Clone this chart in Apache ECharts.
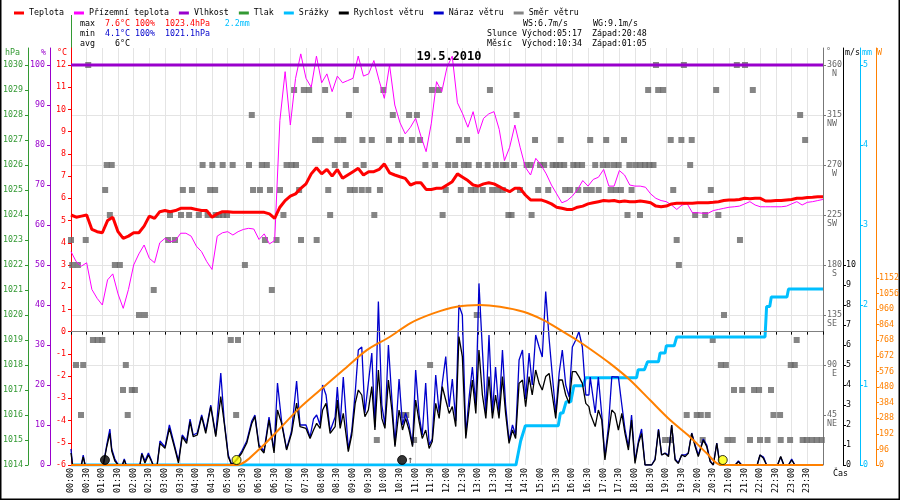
<!DOCTYPE html>
<html>
<head>
<meta charset="utf-8">
<script src="https://cdn.jsdelivr.net/npm/echarts@6/dist/echarts.min.js"></script>
<style>
html, body { margin: 0; padding: 0; background: #fff; }
#chart { width: 900px; height: 500px; }
</style>
</head>
<body>
<div id="chart"></div>
<script>
// 10 minute samples, 00:00 .. 24:00
const tempC = [5.25,5.15,5.2,5.25,4.6,4.5,4.45,5.0,5.15,4.5,
  4.2,4.3,4.45,4.45,4.75,5.2,5.1,5.4,5.45,5.4,
  5.45,5.55,5.55,5.55,5.5,5.45,5.45,5.15,5.3,5.4,
  5.4,5.37,5.37,5.37,5.37,5.37,5.37,5.37,5.3,5.1,
  5.6,5.9,6.1,6.2,6.45,6.65,7.1,7.38,7.1,7.3,
  7.0,7.3,6.9,7.05,7.2,7.35,7.05,7.2,7.2,7.3,
  7.55,7.15,7.05,6.97,6.9,6.6,6.7,6.7,6.4,6.4,
  6.45,6.45,6.6,6.75,7.1,6.95,6.8,6.6,6.55,6.65,
  6.7,6.65,6.53,6.4,6.3,6.45,6.45,6.15,5.93,5.93,
  5.93,5.85,5.75,5.6,5.55,5.5,5.5,5.6,5.65,5.75,
  5.8,5.85,5.9,5.88,5.9,5.85,5.88,5.85,5.85,5.88,
  5.85,5.8,5.65,5.62,5.65,5.75,5.78,5.78,5.78,5.78,
  5.8,5.8,5.8,5.82,5.85,5.9,5.93,5.93,5.95,6.0,
  5.98,6.0,6.0,5.88,5.88,5.9,5.9,5.93,5.95,6.0,
  6.0,6.04,6.05,6.07,6.07];

const feelsC = [3.6,3.15,2.95,3.1,1.9,1.5,1.2,2.33,2.6,1.7,
  1.05,1.9,3.0,3.5,3.9,3.3,3.1,4.0,4.2,4.05,
  4.1,4.43,4.43,4.3,3.85,3.6,3.15,2.8,4.3,4.45,
  4.5,4.35,4.5,4.6,4.65,4.62,4.15,4.4,3.95,4.1,
  9.5,11.7,9.3,11.4,12.5,11.4,11.0,12.4,11.2,11.6,
  10.8,11.5,11.2,11.3,11.4,12.4,11.5,11.6,12.2,11.3,
  10.5,12.0,10.2,9.4,8.9,9.2,9.6,8.8,8.1,9.38,
  11.25,10.8,11.9,12.4,10.3,9.8,9.2,9.9,8.9,9.6,
  9.8,9.9,9.1,7.7,8.3,9.3,8.3,7.4,7.05,7.8,
  7.5,7.1,6.6,6.2,5.8,5.9,6.1,6.4,6.8,6.55,
  6.85,6.95,7.3,6.55,6.55,7.25,7.05,6.6,6.55,6.55,
  6.5,6.2,6.0,5.9,5.85,5.7,5.5,5.7,5.75,5.35,
  5.35,5.33,5.33,5.45,5.5,5.55,5.6,5.62,5.65,5.75,
  5.85,5.7,5.62,5.62,5.62,5.62,5.62,5.65,5.75,5.85,
  5.7,5.82,5.85,5.9,5.95];

const humidityHours = [0, 24];
const humidityPct = [100, 100];

const windHours = [0,0.05,0.33,0.39,0.45,1.03,1.14,1.24,1.3,1.4,1.51,1.64,1.7,1.76,2.2,2.26,2.36,2.47,2.55,2.62,
  2.75,2.84,3.0,3.14,3.3,3.43,3.55,3.69,3.8,3.9,4.03,4.17,4.3,4.46,4.62,4.78,4.89,5.02,5.13,5.29,
  5.45,5.61,5.77,5.87,6.0,6.16,6.32,6.48,6.59,6.72,6.88,7.04,7.2,
  7.31,7.5,7.63,7.74,7.84,7.95,8.03,8.14,8.27,8.43,8.5,8.59,8.69,8.85,8.96,9.07,9.17,9.28,9.38,9.49,
  9.6,9.7,9.81,9.92,10.02,10.13,10.24,10.34,10.47,10.58,10.68,10.79,10.9,11.0,11.11,11.21,11.32,11.43,11.53,11.64,
  11.75,11.85,11.96,12.07,12.17,12.28,12.38,12.49,12.6,12.7,12.81,12.92,13.02,13.13,13.24,13.34,13.45,13.55,13.66,13.77,
  13.87,13.98,14.09,14.19,14.3,14.41,14.51,14.62,14.72,14.83,14.94,15.04,15.15,15.26,15.36,15.47,15.58,15.68,15.79,15.9,
  16.0,16.11,16.21,16.32,16.43,16.53,
  16.57,16.73,16.83,16.94,17.04,17.15,17.26,17.36,17.47,17.58,17.68,17.79,17.89,18.0,18.11,18.21,18.32,18.43,18.53,18.64,
  18.75,18.85,18.96,19.07,19.17,19.28,19.38,19.49,19.6,19.7,19.81,19.92,20.02,20.18,20.29,20.4,20.5,20.61,20.71,
  21.2,21.3,21.4,21.9,21.99,22.1,22.2,22.55,22.65,22.75,22.9,23.0,23.1,24];

const windSpeed = [0.6,0,0,0.4,0,0,0.9,1.58,0.7,0.2,0,0,0.25,0,0,0.55,0.1,0.5,0.25,0,
  0,1.08,0.83,1.83,0.9,0.1,1.42,1.08,2.17,1.42,1.5,2.42,1.58,2.92,1.42,3.42,2.1,0.4,0,0.25,
  0.6,1.1,2.08,2.42,0.9,0.6,2.25,0.6,2.75,2.08,0.75,1.58,3.1,
  1.92,1.83,1.33,1.75,2.08,1.83,2.75,3.08,1.58,1.92,3.25,1.83,2.58,0.67,1.5,3.08,3.75,3.5,2.42,2.75,
  3.92,1.75,4.75,2.33,1.83,4.25,2.75,0.92,2.75,1.75,2.33,1.75,0.92,3.25,2.17,1.33,1.75,0.83,1.17,3.08,
  2.33,3.92,3.25,2.58,2.92,1.92,6.42,5.42,1.33,2.75,4.25,2.58,5.75,3.5,2.33,4.42,2.33,3.5,2.33,4.42,
  2.58,1.08,1.75,1.33,4.08,4.25,2.92,4.42,3.5,4.75,4.08,3.75,4.42,4.58,3.5,2.33,4.25,4.25,3.5,3.08,
  4.67,4.67,4.42,4.08,3.08,2.92,
  2.58,1.92,2.75,2.25,0.25,1.58,2.75,2.58,1.75,2.58,1.58,0.75,2.25,0.08,1.08,1.58,0,0,0,0.25,
  1.75,0.5,0.58,0.42,2.0,0.25,0.08,0.5,0.42,0.58,1.58,0.92,0.42,1.25,0.92,0.17,0,1.08,0,
  0,0.17,0,0,0.5,0.33,0,0,0.42,0,0,0.25,0,0];

const windGust = [0.8,0,0,0.5,0,0,1.0,1.8,0.8,0.3,0,0,0.3,0,0,0.6,0.2,0.6,0.3,0,
  0,1.2,0.9,2.0,1.0,0.2,1.5,1.2,2.3,1.5,1.6,2.5,1.7,3.0,1.5,4.6,2.2,0.5,0,0.3,
  0.7,1.2,2.2,2.5,1.0,0.7,2.4,0.7,4.1,2.2,0.8,1.7,4.2,
  2.0,2.0,1.4,2.3,2.5,2.0,4.0,3.5,1.7,2.4,3.9,2.0,4.4,0.8,1.7,3.6,5.75,5.9,2.6,4.1,
  5.6,1.9,8.17,3.0,2.0,6.0,3.3,1.0,4.3,2.0,2.6,2.0,1.0,4.75,2.5,1.5,4.1,1.0,1.3,4.5,
  2.6,4.1,5.42,2.9,4.3,2.2,8.0,7.5,1.5,3.3,4.9,3.0,9.08,5.75,2.6,6.5,2.6,4.9,2.6,5.75,
  3.0,1.2,2.0,1.5,5.25,5.75,3.3,5.6,4.0,6.5,5.9,5.4,8.67,6.3,4.5,2.6,4.6,5.75,4.0,3.4,
  5.9,6.25,6.67,5.9,3.5,3.5,
  4.4,2.6,4.4,2.5,0.4,1.9,4.42,4.4,4.4,3.0,1.8,0.9,2.5,0.2,1.2,1.8,0,0,0,0.3,
  1.8,0.5,0.6,0.5,2.0,0.3,0.1,0.5,0.5,0.6,1.6,1.0,0.5,1.3,1.0,0.2,0,1.1,0,
  0,0.2,0,0,0.5,0.4,0,0,0.4,0,0,0.3,0,0];

// wind direction observations: [degrees, hours]
const windDir = [
  [360, [0.55,18.67,19.56,21.25,21.51]],
  [337.5, [7.12,7.43,7.6,8.11,9.09,9.97,11.52,11.74,13.37,18.42,18.74,18.9,20.59,21.76]],
  [315, [5.77,8.87,10.27,10.79,11.04,14.22,23.27]],
  [292.5, [7.79,7.97,8.5,8.69,9.3,9.6,10.15,10.53,10.88,11.14,12.38,12.64,14.81,15.63,16.57,17.08,17.65,19.14,19.48,19.81,23.43]],
  [270, [1.14,1.3,4.2,4.51,4.84,5.16,5.68,6.09,6.25,6.88,7.04,7.18,8.42,8.77,9.34,10.44,11.31,11.62,12.04,12.26,12.54,12.69,13.02,13.3,13.56,13.78,13.89,14.14,14.54,14.67,14.97,15.1,15.37,15.48,15.6,15.74,16.03,16.16,16.31,16.73,16.97,17.13,17.33,17.48,17.82,18.01,18.17,18.32,18.46,18.59,19.76]],
  [247.5, [1.09,3.57,3.86,4.44,4.6,5.81,6.03,6.35,6.67,7.28,8.21,8.9,9.06,9.28,9.49,9.86,11.96,12.44,12.76,12.92,13.14,13.44,13.62,13.78,14.33,14.91,15.23,15.77,15.93,16.19,16.44,16.62,16.84,17.22,17.39,17.55,17.89,19.22,20.42]],
  [225, [1.24,3.16,3.51,3.77,4.08,4.36,4.62,4.72,4.85,4.98,6.78,8.27,9.68,11.86,13.96,14.06,14.7,17.76,18.16,19.92,20.24,20.66]],
  [202.5, [0,0.47,3.1,3.32,6.19,6.56,7.34,7.84,19.33,21.35]],
  [180, [0.04,0.22,1.4,1.56,5.55,19.4]],
  [157.5, [2.64,6.41]],
  [135, [2.17,2.36,12.95,20.84]],
  [112.5, [0.7,0.85,1.0,5.1,5.33,20.48,23.16]],
  [90, [0.16,0.39,1.75,11.46,20.74,20.9,22.97,23.1]],
  [67.5, [1.66,1.94,2.04,21.16,21.42,21.8,21.96,22.34]],
  [45, [0.32,1.81,5.27,10.6,10.7,19.65,19.97,20.1,20.32,22.42,22.63]],
  [22.5, [9.76,10.95,18.96,19.12,20.16,20.95,21.12,21.67,21.99,22.23,22.65,22.95,23.35,23.48,23.64,23.8,23.96]]
];

const rainHours = [0,14.2,14.35,14.5,15.55,15.62,15.7,15.8,15.95,16.05,16.35,16.42,18.05,18.1,18.3,18.4,18.75,18.8,18.96,19.0,19.25,19.33,22.15,22.2,22.3,22.35,22.85,22.9,24];
const rainMm = [0,0,0.3,0.49,0.49,0.65,0.65,0.79,0.79,0.99,0.99,1.09,1.09,1.19,1.19,1.29,1.29,1.4,1.4,1.49,1.49,1.6,1.6,1.98,1.98,2.1,2.1,2.2,2.2];

const solarHours = [0,5.3,5.98,6.62,7.3,7.95,8.69,9.44,10.18,10.82,11.56,12.31,13.05,13.69,14.44,15.08,15.61,16.14,16.6,17.2,17.84,18.48,19.12,19.75,20.29,20.75,24];
const solarW = [0,0,92,216,352,462,585,708,790,873,934,975,986,975,944,893,832,770,710,626,524,400,277,174,72,0,0];

const sunEvents = [5 + 17/60, 20 + 48/60];
const moonRise = 10 + 34/60;
const moonSet = 1 + 5/60;

// tick labels
const tempTicks = [-6,-5,-4,-3,-2,-1,0,1,2,3,4,5,6,7,8,9,10,11,12];
const humTicks = [0,10,20,30,40,50,60,70,80,90,100];
const pressTicks = [1014,1015,1016,1017,1018,1019,1020,1021,1022,1023,1024,1025,1026,1027,1028,1029,1030];
const dirTicks = [45,90,135,180,225,270,315,360];
const dirNames = ['NE','E','SE','S','SW','W','NW','N'];
const windTicks = [0,1,2,3,4,5,6,7,8,9,10];
const rainTicks = [0,1,2,3,4,5];
const solarTicks = [0,96,192,288,384,480,576,672,768,864,960,1056,1152];

const FONT = 'DejaVu Sans Mono';
const FS = 8.3;

function pad(n) { return (n < 10 ? '0' : '') + n; }
function hhmm(h) { var m = Math.round(h * 60); return pad(Math.floor(m / 60)) + ':' + pad(m % 60); }
function tenMin(arr) { return arr.map(function (v, i) { return [i / 6, v]; }); }
function zip(xs, ys) { return xs.map(function (x, i) { return [x, ys[i]]; }); }

function yAxis(pos, off, min, max, interval, color, ticks, margin, extra) {
  var ax = {
    type: 'value', position: pos, offset: off, min: min, max: max, interval: interval,
    axisLine: { show: true, onZero: false, lineStyle: { color: color, width: 1 } },
    axisTick: { show: true, length: 3, customValues: ticks, lineStyle: { color: color } },
    axisLabel: {
      color: color, fontFamily: FONT, fontSize: FS, margin: margin, customValues: ticks,
      formatter: function (v) { return ticks.indexOf(v) >= 0 ? String(v) : ''; }
    },
    splitLine: { show: false }
  };
  return Object.assign(ax, extra || {});
}

var dirData = [];
windDir.forEach(function (g) { g[1].forEach(function (h) { dirData.push([h, g[0]]); }); });

var chart = echarts.init(document.getElementById('chart'));

var option = {
  animation: false,
  backgroundColor: '#fff',
  textStyle: { fontFamily: FONT, fontSize: FS },
  grid: { left: 71, right: 77, top: 48, bottom: 35, containLabel: false, outerBoundsMode: 'none' },
  legend: {
    data: ['Teplota', 'Přízemní teplota', 'Vlhkost', 'Tlak', 'Srážky', 'Rychlost větru', 'Náraz větru', 'Směr větru'],
    left: 9, top: 4, itemWidth: 10, itemHeight: 3, itemGap: 10, icon: 'rect', selectedMode: false,
    textStyle: { fontFamily: FONT, fontSize: FS, color: '#000' }
  },
  xAxis: {
    type: 'value', min: 0, max: 24, interval: 0.5,
    axisLine: { lineStyle: { color: '#000' } },
    axisTick: { length: 3, lineStyle: { color: '#000' } },
    axisLabel: {
      rotate: 90, margin: 3, color: '#000', fontFamily: FONT, fontSize: FS,
      formatter: function (v) { return v < 24 ? hhmm(v) : ''; }
    },
    splitLine: { show: true, lineStyle: { color: '#e4e4e4' } }
  },
  yAxis: [
    yAxis('left', 0, -6, 12.765, 1, '#ff0000', tempTicks, 5),
    yAxis('left', 21, 0, 104.25, 10, '#9900cc', humTicks, 5),
    yAxis('left', 43, 1014, 1030.68, 1, '#339933', pressTicks, 5),
    yAxis('right', 0, 0, 375.3, 45, '#777777', dirTicks, 4, {
      axisLabel: {
        color: '#666', fontFamily: FONT, fontSize: FS, margin: 4, lineHeight: 9, customValues: dirTicks,
        formatter: function (v) {
          var i = dirTicks.indexOf(v);
          if (i < 0) return '';
          var n = dirNames[i];
          return '\n' + v + '\n' + (n.length < 2 ? ' ' + n : n);
        }
      },
      splitLine: { show: true, showMinLine: false, showMaxLine: false, lineStyle: { color: '#e4e4e4' } }
    }),
    yAxis('right', 20, 0, 20.85, 1, '#000000', windTicks, 3),
    yAxis('right', 37, 0, 5.2125, 1, '#00bfff', rainTicks, 3),
    yAxis('right', 53, 0, 2568.8, 96, '#ff8000', solarTicks, 3)
  ],
  series: [
    {
      name: 'Směr větru', type: 'scatter', yAxisIndex: 3, data: dirData,
      symbol: 'rect', symbolSize: 6, itemStyle: { color: '#666666' }, z: 1
    },
    {
      name: 'Srážky', type: 'line', yAxisIndex: 5, data: zip(rainHours, rainMm),
      showSymbol: false, symbol: 'none', lineStyle: { color: '#00bfff', width: 3 }, itemStyle: { color: '#00bfff' }, z: 2
    },
    {
      name: 'Náraz větru', type: 'line', yAxisIndex: 4, data: zip(windHours, windGust),
      symbol: 'none', lineStyle: { color: '#0000cc', width: 1.3 }, itemStyle: { color: '#0000cc' }, z: 3
    },
    {
      name: 'Rychlost větru', type: 'line', yAxisIndex: 4, data: zip(windHours, windSpeed),
      symbol: 'none', lineStyle: { color: '#000000', width: 1.3 }, itemStyle: { color: '#000000' }, z: 4
    },
    {
      name: 'Záření', type: 'line', yAxisIndex: 6, data: zip(solarHours, solarW), smooth: 0.3,
      symbol: 'none', lineStyle: { color: '#ff8000', width: 2 }, itemStyle: { color: '#ff8000' }, z: 5
    },
    {
      name: 'Přízemní teplota', type: 'line', yAxisIndex: 0, data: tenMin(feelsC), clip: false,
      symbol: 'none', lineStyle: { color: '#ff00ff', width: 1 }, itemStyle: { color: '#ff00ff' }, z: 6
    },
    {
      name: 'Vlhkost', type: 'line', yAxisIndex: 1, data: zip(humidityHours, humidityPct),
      symbol: 'none', lineStyle: { color: '#9900cc', width: 3 }, itemStyle: { color: '#9900cc' }, z: 7
    },
    {
      name: 'Tlak', type: 'line', yAxisIndex: 2, data: [],
      symbol: 'none', lineStyle: { color: '#339933', width: 2 }, itemStyle: { color: '#339933' }
    },
    {
      name: 'Teplota', type: 'line', yAxisIndex: 0, data: tenMin(tempC),
      symbol: 'none', lineStyle: { color: '#ff0000', width: 3 }, itemStyle: { color: '#ff0000' }, z: 8,
      markLine: {
        silent: true, symbol: 'none', label: { show: false },
        lineStyle: { color: '#808080', width: 1, type: 'solid' },
        data: [{ yAxis: 0 }]
      }
    },
    {
      name: 'Slunce a Měsíc', type: 'scatter', yAxisIndex: 4, z: 9,
      symbol: 'circle', symbolSize: 9, symbolOffset: [0, -5],
      itemStyle: { borderColor: '#000', borderWidth: 1 },
      data: [
        { value: [sunEvents[0], 0], itemStyle: { color: '#ffff00' } },
        { value: [sunEvents[1], 0], itemStyle: { color: '#ffff00' } },
        { value: [moonSet, 0], itemStyle: { color: '#000000' } },
        { value: [moonRise, 0], itemStyle: { color: '#000000' },
          label: { show: true, position: 'right', distance: 0, formatter: '↑', color: '#000', fontSize: 10, fontFamily: FONT } }
      ]
    }
  ],
  graphic: [
    { type: 'polyline', silent: true, shape: { points: [[0.75, 0], [0.75, 499.25], [899.25, 499.25], [899.25, 0]] },
      style: { stroke: '#000', lineWidth: 1.5, fill: null } },
    { type: 'line', silent: true, shape: { x1: 71.5, y1: 15, x2: 71.5, y2: 48 }, style: { stroke: '#339933', lineWidth: 1 } },
    { type: 'text', x: 80, y: 24, style: {
      text: '{k|max  }{r|7.6°C 100%  1023.4hPa}{c|   2.2mm}', font: FS + 'px ' + FONT, verticalAlign: 'middle',
      rich: { k: { fill: '#000', font: FS + 'px ' + FONT }, r: { fill: '#ff0000', font: FS + 'px ' + FONT }, c: { fill: '#00bfff', font: FS + 'px ' + FONT } } } },
    { type: 'text', x: 80, y: 34, style: {
      text: '{k|min  }{b|4.1°C 100%  1021.1hPa}', font: FS + 'px ' + FONT, verticalAlign: 'middle',
      rich: { k: { fill: '#000', font: FS + 'px ' + FONT }, b: { fill: '#0000cc', font: FS + 'px ' + FONT } } } },
    { type: 'text', x: 80, y: 44, style: { text: 'avg    6°C', fill: '#000', font: FS + 'px ' + FONT, verticalAlign: 'middle' } },
    { type: 'text', x: 523, y: 24, style: { text: 'WS:6.7m/s     WG:9.1m/s', fill: '#000', font: FS + 'px ' + FONT, verticalAlign: 'middle' } },
    { type: 'text', x: 487, y: 34, style: { text: 'Slunce Východ:05:17  Západ:20:48', fill: '#000', font: FS + 'px ' + FONT, verticalAlign: 'middle' } },
    { type: 'text', x: 487, y: 44, style: { text: 'Měsíc  Východ:10:34  Západ:01:05', fill: '#000', font: FS + 'px ' + FONT, verticalAlign: 'middle' } },
    { type: 'text', x: 449, y: 57, z: 100, style: { text: '19.5.2010', fill: '#000', font: 'bold 12px ' + FONT, align: 'center', verticalAlign: 'middle' } },
    { type: 'text', x: 5, y: 53, style: { text: 'hPa', fill: '#339933', font: FS + 'px ' + FONT, verticalAlign: 'middle' } },
    { type: 'text', x: 41, y: 53, style: { text: '%', fill: '#9900cc', font: FS + 'px ' + FONT, verticalAlign: 'middle' } },
    { type: 'text', x: 57, y: 53, style: { text: '°C', fill: '#ff0000', font: FS + 'px ' + FONT, verticalAlign: 'middle' } },
    { type: 'text', x: 826, y: 52, style: { text: '°', fill: '#666', font: FS + 'px ' + FONT, verticalAlign: 'middle' } },
    { type: 'text', x: 845, y: 53, style: { text: 'm/s', fill: '#000', font: FS + 'px ' + FONT, verticalAlign: 'middle' } },
    { type: 'text', x: 862, y: 53, style: { text: 'mm', fill: '#00bfff', font: FS + 'px ' + FONT, verticalAlign: 'middle' } },
    { type: 'text', x: 877, y: 53, style: { text: 'W', fill: '#ff8000', font: FS + 'px ' + FONT, verticalAlign: 'middle' } },
    { type: 'text', x: 833, y: 474, style: { text: 'Čas', fill: '#000', font: FS + 'px ' + FONT, verticalAlign: 'middle' } }
  ]
};

chart.setOption(option);
</script>
</body>
</html>
